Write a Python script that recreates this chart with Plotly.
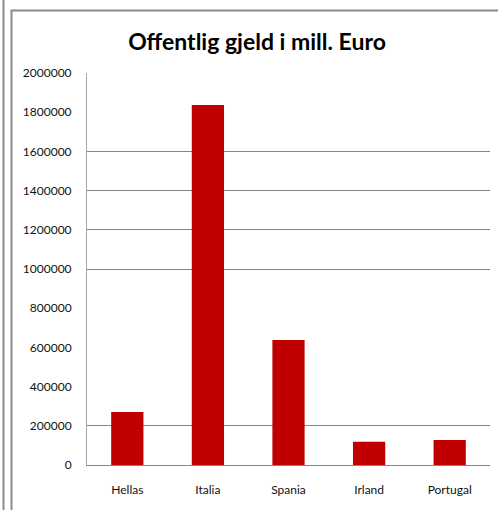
import plotly.graph_objects as go

countries = ["Hellas", "Italia", "Spania", "Irland", "Portugal"]
debt = [271000, 1837000, 638000, 118000, 128000]
y_ticks = [0, 200000, 400000, 600000, 800000, 1000000, 1200000, 1400000, 1600000, 1800000, 2000000]
visible_grid = [200000, 1000000, 1200000, 1400000, 1600000]

W, H = 498, 510
L, R, T, B = 87, 8, 73, 45
pw, ph = W - L - R, H - T - B

def px(x):
    return (x - L) / pw

def py(y):
    return (H - B - y) / ph

fig = go.Figure()
# invisible trace to activate yaxis2 gridlines
fig.add_trace(go.Scatter(x=countries, y=debt, yaxis="y2", mode="markers",
                         marker=dict(opacity=0), showlegend=False, hoverinfo="skip"))
fig.add_trace(go.Bar(x=countries, y=debt, marker=dict(color="#C00000", line=dict(width=0)),
                     showlegend=False))

font_family = "Lato, 'Open Sans', sans-serif"
fig.update_layout(
    width=W, height=H,
    margin=dict(l=L, r=R, t=T, b=B),
    paper_bgcolor="white", plot_bgcolor="white",
    bargap=0.6,
    title=dict(text="<b>Offentlig gjeld i mill. Euro</b>", x=257 / W, xanchor="center",
               y=1 - 42 / H, yanchor="middle",
               font=dict(family=font_family, size=23, color="black")),
    xaxis=dict(showgrid=False, showline=True, linecolor="#868686", linewidth=1,
               ticks="", tickfont=dict(family=font_family, size=12, color="#111"),
               ticklabelstandoff=14),
    yaxis=dict(range=[0, 2000000], tickvals=y_ticks, ticktext=[str(v) for v in y_ticks],
               showgrid=False, showline=True, linecolor="#A6A6A6", linewidth=1,
               zeroline=False, ticks="", ticklabelstandoff=12,
               tickfont=dict(family=font_family, size=12, color="#111")),
    yaxis2=dict(range=[0, 2000000], overlaying="y", tickvals=visible_grid,
                showticklabels=False, showgrid=True, gridcolor="#868686", gridwidth=1,
                showline=False, zeroline=False, ticks=""),
    shapes=[
        dict(type="line", xref="paper", yref="paper", x0=px(3.5), x1=px(3.5),
             y0=py(-5), y1=py(520), line=dict(color="#8C8C8C", width=2)),
        dict(type="rect", xref="paper", yref="paper", x0=px(11.5), x1=px(520),
             y0=py(530), y1=py(10.5), line=dict(color="#8C8C8C", width=2), layer="below"),
    ],
)

fig.write_html("out.html", config={"displayModeBar": False},
               post_script="document.body.style.margin='0';")
